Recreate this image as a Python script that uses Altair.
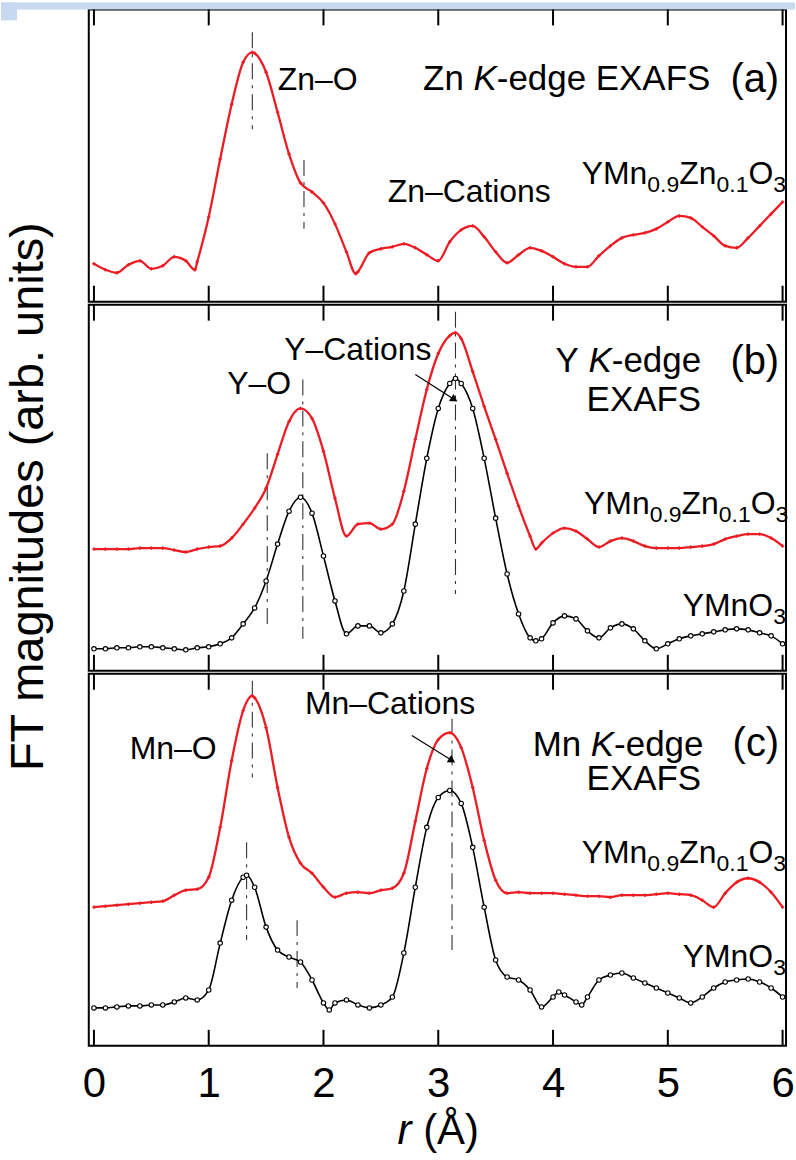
import math
import altair as alt
import pandas as pd

FONT = "Liberation Sans"
RED = "#ec1c24"
INK = "#000000"
GUIDE = "#333333"

# shared r axis (Å)
R_MIN, R_MAX = -0.045, 6.03
PANEL_W = 699
H_A, H_B, H_C = 293, 367, 373
PX_PER_R = PANEL_W / (R_MAX - R_MIN)
TICKS = [0, 1, 2, 3, 4, 5, 6]

R_GRID = [round(0.1 * i, 1) for i in range(61)]

# (a) Zn K-edge, YMn0.9Zn0.1O3
zn_doped = [38, 32, 29, 37, 41, 33, 36, 45, 41, 40,
            85, 143, 198, 240, 249, 230, 190, 148, 119, 110,
            99, 78, 50, 30, 49, 53, 55, 58, 54, 47,
            41, 60, 72, 76, 65, 50, 39, 47, 54, 51,
            45, 38, 35, 35, 46, 56, 64, 67, 69, 73,
            80, 86, 84, 75, 66, 56, 54, 64, 76, 88, 100]
zn_doped_xr = [0.88, 1.38, 2.28]
zn_doped_xv = [32, 250, 28]

# (b) Y K-edge
y_doped = [122, 122, 122, 122, 123, 123, 123, 121, 119, 122,
           124, 125, 133, 147, 163, 183, 217, 250, 263, 253,
           220, 173, 135, 147, 148, 142, 147, 180, 232, 282,
           318, 336, 333, 300, 265, 232, 198, 165, 135, 128,
           138, 143, 140, 132, 124, 130, 133, 130, 125, 123,
           123, 123, 124, 125, 127, 132, 135, 137, 137, 133, 125]
y_doped_xr = [3.15, 3.85]
y_doped_xv = [339, 122]

y_pure = [22, 22, 23, 23, 24, 24, 23, 22, 21, 23,
          24, 27, 33, 47, 63, 90, 127, 160, 174, 158,
          115, 70, 37, 45, 45, 38, 47, 80, 147, 213,
          263, 288, 288, 263, 213, 153, 97, 57, 33, 32,
          48, 55, 52, 40, 33, 43, 47, 42, 30, 22,
          27, 32, 35, 37, 39, 41, 42, 41, 38, 35, 27]
y_pure_xr = [3.15, 3.85]
y_pure_xv = [293, 30]

# (c) Mn K-edge
mn_doped = [139, 140, 141, 142, 143, 144, 145, 151, 156, 157,
            169, 219, 286, 336, 349, 319, 259, 209, 183, 173,
            159, 149, 153, 154, 153, 156, 158, 173, 225, 278,
            307, 314, 299, 259, 206, 166, 153, 154, 153, 153,
            153, 152, 151, 150, 150, 149, 151, 151, 151, 152,
            153, 152, 151, 146, 139, 153, 164, 168, 164, 154, 139]
mn_doped_xr = [1.38]
mn_doped_xv = [351]

mn_pure = [38, 38, 39, 40, 40, 41, 41, 44, 48, 46,
           56, 103, 146, 169, 159, 119, 96, 89, 84, 66,
           43, 43, 46, 41, 38, 41, 49, 93, 159, 219,
           249, 256, 243, 199, 139, 86, 69, 66, 56, 39,
           49, 51, 44, 49, 66, 71, 73, 68, 63, 58,
           53, 48, 43, 49, 58, 64, 66, 67, 64, 58, 49]
mn_pure_xr = [1.33, 2.05, 4.05, 4.25]
mn_pure_xv = [171, 36, 54, 41]

# peak-position guides: (r, upper, lower)
guides_a = [(1.38, 270, 173), (1.83, 142, 73)]
guides_b = [(1.51, 218, 47), (1.82, 292, 32), (3.15, 360, 77)]
guides_c = [(1.38, 366, 269), (1.33, 204, 106), (1.77, 126, 58), (3.12, 328, 96)]

# annotation arrows: (r start, v start, r end, v end)
arrow_b = (2.80, 297, 3.14, 272)
arrow_c = (2.77, 311, 3.12, 286)

# Arial/Liberation Sans advance widths (per 1000 em)
CHAR_W = {" ": 278, "(": 333, ")": 333, "-": 333, "\u2013": 556, ".": 278,
          "A": 667, "C": 722, "E": 667, "F": 611, "K": 667, "M": 833, "O": 778,
          "S": 667, "T": 611, "X": 667, "Y": 667, "Z": 611, "a": 556, "b": 556,
          "c": 500, "d": 556, "e": 556, "g": 556, "i": 222, "n": 556, "o": 556,
          "r": 333, "s": 500, "t": 278, "u": 556, "\u00c5": 667}
for d in "0123456789":
    CHAR_W[d] = 556


def text_width(s, size):
    return sum(CHAR_W.get(c, 556) for c in s) * size / 1000.0


AX_X_BOTTOM = alt.Axis(values=TICKS, format="d", labels=True, labelFontSize=42,
                       labelFont=FONT, labelColor=INK, ticks=False, tickSize=0,
                       domain=False, grid=False, labelPadding=18, labelFlush=False,
                       labelOverlap=False, labelBound=False, title=None)
AX_Y_TITLE = alt.Axis(title="FT magnitudes (arb. units)", labels=False, ticks=False,
                      domain=False, grid=False, titleFontSize=47, titleFont=FONT,
                      titleFontWeight="normal", titleColor=INK, titleAngle=270,
                      titleX=-60, titleY=192, titleAlign="center", titleBaseline="middle")


class Panel:
    """One EXAFS panel; every layer shares the same axis settings."""

    def __init__(self, h, xaxis=None, yaxis=None):
        self.h, self.xaxis, self.yaxis = h, xaxis, yaxis
        self.layers = []

    def x(self, field="r:Q"):
        return alt.X(field, scale=alt.Scale(domain=[R_MIN, R_MAX], nice=False, zero=False),
                     axis=self.xaxis)

    def y(self, field="ft:Q"):
        return alt.Y(field, scale=alt.Scale(domain=[0, self.h], nice=False, zero=False),
                     axis=self.yaxis)

    def frame_ticks(self):
        df = pd.DataFrame({"r": TICKS})
        base = alt.Chart(df).mark_rule(color=INK, strokeWidth=2)
        self.layers.append(base.encode(x=self.x(), y=alt.value(0), y2=alt.value(16)))
        self.layers.append(base.encode(x=self.x(), y=alt.value(self.h - 16),
                                       y2=alt.value(self.h)))

    def spectrum(self, values, extra_r, extra_v, color, hollow):
        df = pd.DataFrame({"r": R_GRID + list(extra_r),
                           "ft": list(values) + list(extra_v)}).sort_values("r")
        base = alt.Chart(df).encode(x=self.x(), y=self.y())
        if hollow:
            self.layers.append(base.mark_line(interpolate="monotone", color=color,
                                              strokeWidth=1.6))
            self.layers.append(base.mark_point(shape="circle", filled=True, fill="white",
                                               stroke=color, strokeWidth=1.1, size=20,
                                               opacity=1))
        else:
            self.layers.append(base.mark_line(interpolate="monotone", color=color,
                                              strokeWidth=2.3))
            self.layers.append(base.mark_point(shape="cross", filled=True, color=color,
                                               size=12, opacity=1))

    def guides(self, rows):
        df = pd.DataFrame(rows, columns=["r", "top", "bottom"])
        self.layers.append(alt.Chart(df).mark_rule(
            color=GUIDE, strokeWidth=1.1, strokeDash=[16, 6, 3, 6]).encode(
            x=self.x(), y=self.y("top:Q"), y2="bottom:Q"))

    def arrow(self, spec):
        r1, v1, r2, v2 = spec
        ang = math.degrees(math.atan2(v1 - v2, (r2 - r1) * PX_PER_R))
        df = pd.DataFrame({"r": [r1], "v": [v1], "r2": [r2], "v2": [v2]})
        self.layers.append(alt.Chart(df).mark_rule(color=INK, strokeWidth=1.2).encode(
            x=self.x(), y=self.y("v:Q"), x2="r2:Q", y2="v2:Q"))
        self.layers.append(alt.Chart(df).mark_point(
            shape="triangle-right", filled=True, color=INK, size=70, angle=ang,
            opacity=1).encode(x=self.x("r2:Q"), y=self.y("v2:Q")))

    def rich_text(self, segments, r, v, anchor="left"):
        """segments: (text, font size, italic, baseline shift in px)"""
        total = sum(text_width(t, s) for t, s, _, _ in segments)
        off = {"left": 0.0, "center": -total / 2.0, "right": -total}[anchor]
        for t, s, it, shift in segments:
            df = pd.DataFrame({"r": [r], "ft": [v], "label": [t.rstrip()]})
            self.layers.append(alt.Chart(df).mark_text(
                align="left", baseline="alphabetic", dx=off, dy=shift, fontSize=s,
                fontStyle="italic" if it else "normal", font=FONT, color=INK).encode(
                x=self.x(), y=self.y(), text="label:N"))
            off += text_width(t, s)

    def plain(self, text, size, r, v, anchor="center"):
        self.rich_text([(text, size, False, 0)], r, v, anchor)

    def doped_label(self, r, v):
        self.rich_text([("YMn", 32, False, 0), ("0.9", 23, False, 8), ("Zn", 32, False, 0),
                        ("0.1", 23, False, 8), ("O", 32, False, 0), ("3", 23, False, 8)],
                       r, v, "left")

    def pure_label(self, r, v):
        self.rich_text([("YMnO", 32, False, 0), ("3", 23, False, 8)], r, v, "left")

    def heading(self, elem, r, v):
        self.rich_text([(elem + " ", 35, False, 0), ("K", 35, True, 0),
                        ("-edge", 35, False, 0)], r, v, "right")

    def chart(self):
        return alt.layer(*self.layers).properties(width=PANEL_W, height=self.h)


# ---------- panel (a) ----------
pa = Panel(H_A)
band = pd.DataFrame({"x1": [-88, -88], "x2": [708, -72], "y1": [-7, -7], "y2": [0, 11]})
pa.layers.append(alt.Chart(band).mark_rect(color="#c6d9f0").encode(
    x=alt.X("x1:Q", scale=None, axis=None), x2="x2:Q",
    y=alt.Y("y1:Q", scale=None, axis=None), y2="y2:Q"))
pa.frame_ticks()
pa.guides(guides_a)
pa.spectrum(zn_doped, zn_doped_xr, zn_doped_xv, RED, False)
pa.plain("Zn\u2013O", 32, 1.95, 212)
pa.rich_text([("Zn ", 35, False, 0), ("K", 35, True, 0), ("-edge EXAFS", 35, False, 0)],
             5.37, 212, "right")
pa.plain("(a)", 40, 5.97, 210, "right")
pa.plain("Zn\u2013Cations", 32, 3.27, 100)
pa.doped_label(4.25, 118)

# ---------- panel (b) ----------
pb = Panel(H_B, yaxis=AX_Y_TITLE)
pb.frame_ticks()
pb.guides(guides_b)
pb.spectrum(y_doped, y_doped_xr, y_doped_xv, RED, False)
pb.spectrum(y_pure, y_pure_xr, y_pure_xv, INK, True)
pb.arrow(arrow_b)
pb.plain("Y\u2013O", 32, 1.44, 277)
pb.plain("Y\u2013Cations", 32, 2.30, 312)
pb.heading("Y", 5.29, 300)
pb.plain("(b)", 40, 5.97, 298, "right")
pb.plain("EXAFS", 35, 5.29, 260, "right")
pb.doped_label(4.27, 157)
pb.pure_label(5.13, 55)

# ---------- panel (c) ----------
pc = Panel(H_C, xaxis=AX_X_BOTTOM)
pc.frame_ticks()
pc.guides(guides_c)
pc.spectrum(mn_doped, mn_doped_xr, mn_doped_xv, RED, False)
pc.spectrum(mn_pure, mn_pure_xr, mn_pure_xv, INK, True)
pc.arrow(arrow_c)
pc.plain("Mn\u2013O", 32, 0.69, 288)
pc.plain("Mn\u2013Cations", 32, 2.58, 333)
pc.heading("Mn", 5.31, 291)
pc.plain("(c)", 40, 5.97, 291, "right")
pc.plain("EXAFS", 35, 5.29, 256, "right")
pc.doped_label(4.25, 183)
pc.pure_label(5.13, 79)
pc.rich_text([("r ", 42, True, 0), ("(\u00c5)", 42, False, 0)], 3.0, -98, "center")

chart = alt.vconcat(pa.chart(), pb.chart(), pc.chart(), spacing=3,
                    bounds="flush").resolve_scale(
    x="independent", y="independent"
).properties(padding=0, background="white").configure(
    font=FONT
).configure_view(
    stroke=INK, strokeWidth=2
)

chart.save("out.html", embed_options={"renderer": "svg", "actions": False})
